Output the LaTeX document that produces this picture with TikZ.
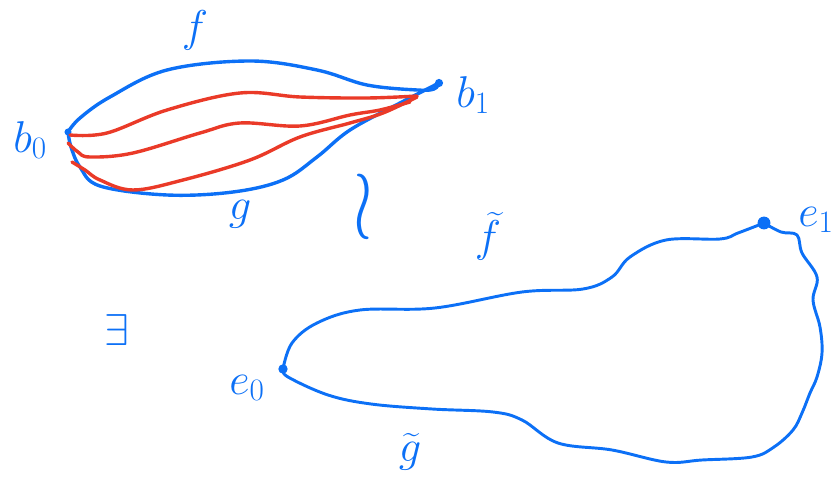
\RequirePackage{fix-cm}
\documentclass[tikz,border=0pt]{standalone}
\usepackage{amsmath}
\usepackage{graphicx}
\definecolor{penblue}{RGB}{12,112,246}
\definecolor{penred}{RGB}{234,58,40}
\tikzset{
  bluestroke/.style={draw=penblue, line width=2.9pt, line cap=round, line join=round},
  redstroke/.style={draw=penred, line width=2.9pt, line cap=round, line join=round},
  lbl/.style={text=penblue, inner sep=0pt, font=\fontsize{38}{40}\selectfont},
  dot/.style={circle, fill=penblue, inner sep=0pt, minimum size=#1},
}
\begin{document}
\begin{tikzpicture}[x=0.03cm, y=-0.03cm]
\useasboundingbox (0,0) rectangle (834,489);
% end points
\node[dot=6pt] (b0) at (68,132) {};
\node[dot=7pt] (b1) at (439,83) {};
\node[dot=8pt] (e0) at (283,369) {};
\node[dot=11pt] (e1) at (764,223) {};
% f and g
\draw[bluestroke] plot[smooth, tension=0.6] coordinates {(b0.center) (80,118) (110,97) (167,70) (250,61) (317,70) (367,85) (417,90) (434,89) (b1.center)};
\draw[bluestroke] plot[smooth, tension=0.6] coordinates {(b0.center) (71,147) (80,167) (100,186) (167,195) (233,192) (283,180) (317,157) (350,130) (400,103) (b1.center)};
% homotopies
\draw[redstroke] plot[smooth, tension=0.6] coordinates {(70,135) (107,133) (167,110) (240,93) (300,97) (367,98) (417,96)};
\draw[redstroke] plot[smooth, tension=0.6] coordinates {(68,143) (78,152) (90,157) (133,153) (200,133) (240,123) (300,126) (350,115) (380,110) (410,102)};
\draw[redstroke] plot[smooth, tension=0.6] coordinates {(72,162) (85,170) (100,180) (133,190) (183,180) (250,160) (300,137) (350,123) (383,113) (417,97)};
% lifted loop
\draw[bluestroke, line width=2.5pt] plot[smooth, tension=0.6] coordinates {(e0.center) (292,343) (317,323) (360,310) (435,308) (522,292) (583,289) (612,277) (630,257) (666,240) (720,239) (738,233) (e1.center)};
\draw[bluestroke, line width=2.5pt] plot[smooth, tension=0.6] coordinates {(e1.center) (781,232) (797,235) (802,253) (817,277) (813,300) (820,327) (822,353) (817,377) (810,393) (802,413) (793,430) (774,447) (752,457) (702,460) (666,462) (612,450) (558,443) (522,420) (493,412) (432,409) (371,404) (328,395) (288,377) (e0.center)};
% labels
\node[lbl] (lf) at (195,30) {$f$};
\node[lbl] (lg) at (240,214) {$g$};
\node[lbl] (lb0) at (30,140) {$b_0$};
\node[lbl] (lb1) at (473,95) {$b_1$};
\node[lbl, font=\fontsize{60}{62}\selectfont] (lsim) at (363,207) {\scalebox{1}[1.4]{$\wr$}};
\node[lbl] (lft) at (488,236) {$\widetilde{f}$};
\node[lbl] (lex) at (117,330) {$\exists$};
\node[lbl] (le0) at (247,388) {$e_0$};
\node[lbl] (le1) at (816,220) {$e_1$};
\node[lbl] (lgt) at (410,452) {$\widetilde{g}$};
\end{tikzpicture}
\end{document}
